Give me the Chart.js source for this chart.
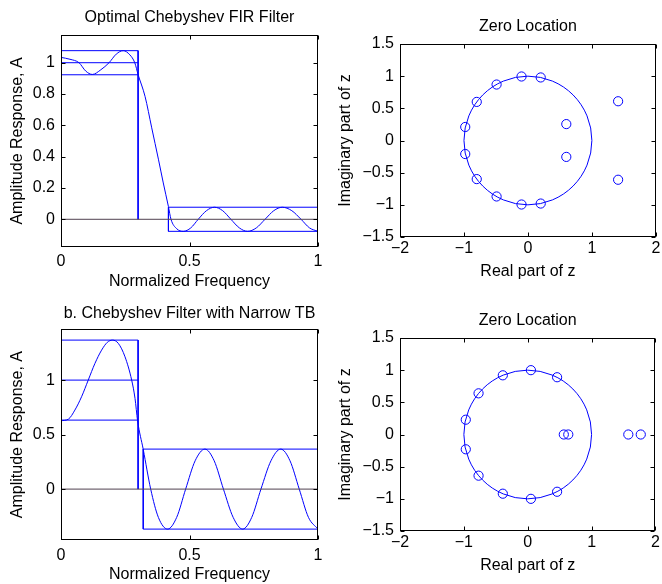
<!DOCTYPE html>
<html>
<head>
<meta charset="utf-8">
<script src="https://cdn.jsdelivr.net/npm/chart.js@4.4.1/dist/chart.umd.min.js"></script>
<style>
  body { margin: 0; background: #fff; width: 662px; height: 584px; position: relative; overflow: hidden; }
  .panel { position: absolute; width: 331px; height: 292px; }
</style>
</head>
<body>
<div class="panel" style="left:0;top:0"><canvas id="respA" width="331" height="292"></canvas></div>
<div class="panel" style="left:331px;top:0"><canvas id="zerosA" width="331" height="292"></canvas></div>
<div class="panel" style="left:0;top:292px"><canvas id="respB" width="331" height="292"></canvas></div>
<div class="panel" style="left:331px;top:292px"><canvas id="zerosB" width="331" height="292"></canvas></div>
<script>
// optimal equiripple design: amplitude response
const freqA = [0, 0.035, 0.07, 0.096, 0.122, 0.155, 0.187, 0.215, 0.242, 0.268, 0.287, 0.3, 0.327, 0.353, 0.379, 0.398, 0.418, 0.428, 0.45, 0.476, 0.505, 0.534, 0.566, 0.597, 0.629, 0.661, 0.694, 0.726, 0.76, 0.794, 0.828, 0.861, 0.898, 0.934, 0.967, 1];
const ampA = [1.034, 1.022, 1.0, 0.947, 0.925, 0.955, 1.0, 1.055, 1.077, 1.05, 1.0, 0.924, 0.785, 0.584, 0.384, 0.232, 0.081, 0, -0.06, -0.077, -0.055, 0, 0.055, 0.077, 0.055, 0, -0.055, -0.077, -0.055, 0, 0.055, 0.077, 0.055, 0, -0.055, -0.077];
const passEdgeA = 0.3, stopEdgeA = 0.418, deltaA = 0.077;

// zeros of the first design
const zerosReA = [-0.10, 0.20, -0.49, -0.80, -0.98, 0.60, 1.41, -0.98, -0.80, -0.49, -0.10, 0.20, 0.60, 1.41];
const zerosImA = [0.995, 0.98, 0.87, 0.60, 0.21, 0.255, 0.61, -0.21, -0.60, -0.87, -0.995, -0.98, -0.255, -0.61];

// narrow transition band design
const freqB = [0, 0.029, 0.054, 0.08, 0.106, 0.132, 0.158, 0.18, 0.2, 0.223, 0.249, 0.275, 0.288, 0.298, 0.32, 0.349, 0.379, 0.415, 0.45, 0.485, 0.522, 0.56, 0.596, 0.632, 0.67, 0.707, 0.742, 0.778, 0.817, 0.855, 0.891, 0.927, 0.963, 1];
const ampB = [0.627, 0.642, 0.725, 0.847, 1.0, 1.153, 1.275, 1.346, 1.367, 1.337, 1.214, 1.0, 0.832, 0.627, 0.364, 0, -0.26, -0.367, -0.26, 0, 0.26, 0.367, 0.26, 0, -0.26, -0.367, -0.26, 0, 0.26, 0.367, 0.26, 0, -0.26, -0.367];
const passEdgeB = 0.3, stopEdgeB = 0.32, deltaB = 0.367;

const zerosReB = [0.05, 0.46, -0.39, -0.77, -0.97, 0.565, 0.635, 1.575, 1.77, -0.97, -0.77, -0.39, 0.05, 0.46];
const zerosImB = [1.0, 0.89, 0.92, 0.64, 0.23, 0, 0, 0, 0, -0.23, -0.64, -0.92, -1.0, -0.89];

const unitRadius = 1;

const BLUE = '#0000ff';
const font = { family: '"Liberation Sans", Arial, Helvetica, sans-serif', size: 16, weight: 'normal' };

function fmt(v) {
  return String(Math.round(v * 100) / 100).replace('-', '\u2212');
}

// box around the axes with inward ticks on all four sides, plus optional unit circle
const framePlugin = {
  id: 'frame',
  beforeDatasetsDraw(chart, args, opts) {
    if (!opts.circle) return;
    const { ctx } = chart;
    const xs = chart.scales.x, ys = chart.scales.y;
    const cx = xs.getPixelForValue(0), cy = ys.getPixelForValue(0);
    const rx = xs.getPixelForValue(unitRadius) - cx;
    const ry = cy - ys.getPixelForValue(unitRadius);
    ctx.save();
    ctx.strokeStyle = BLUE;
    ctx.lineWidth = 1;
    ctx.beginPath();
    ctx.ellipse(cx, cy, rx, ry, 0, 0, Math.PI * 2);
    ctx.stroke();
    ctx.restore();
  },
  afterDraw(chart) {
    const { ctx, chartArea: a } = chart;
    const l = Math.round(a.left) + 0.5, r = Math.round(a.right) - 0.5;
    const t = Math.round(a.top) + 0.5, b = Math.round(a.bottom) - 0.5;
    const len = 4;
    ctx.save();
    ctx.strokeStyle = '#000';
    ctx.lineWidth = 1;
    ctx.strokeRect(l, t, r - l, b - t);
    ctx.beginPath();
    chart.scales.x.ticks.forEach(tk => {
      const px = Math.round(chart.scales.x.getPixelForValue(tk.value)) + 0.5;
      ctx.moveTo(px, b); ctx.lineTo(px, b - len);
      ctx.moveTo(px, t); ctx.lineTo(px, t + len);
    });
    chart.scales.y.ticks.forEach(tk => {
      const py = Math.round(chart.scales.y.getPixelForValue(tk.value)) + 0.5;
      ctx.moveTo(l, py); ctx.lineTo(l + len, py);
      ctx.moveTo(r, py); ctx.lineTo(r - len, py);
    });
    ctx.stroke();
    ctx.restore();
  }
};

function scale(o) {
  return {
    type: 'linear',
    min: o.min,
    max: o.max,
    grid: { display: false, drawTicks: false },
    border: { display: false },
    ticks: {
      stepSize: o.step, includeBounds: false, autoSkip: false, maxRotation: 0,
      padding: o.tickPad, color: '#000', font, callback: fmt
    },
    title: { display: true, text: o.title, color: '#000', font, padding: o.titlePad },
    afterFit(s) {
      if (s.isHorizontal()) s.height = o.size; else s.width = o.size;
    }
  };
}

function seg(points, color) {
  return {
    data: points, borderColor: color || BLUE, borderWidth: 1,
    pointRadius: 0, tension: 0, fill: false
  };
}

function responseChart(id, freq, amp, fp, fs, d, lay) {
  const datasets = [
    seg([{ x: 0, y: 0 }, { x: 1, y: 0 }], 'rgb(80,64,80)'),
    seg([{ x: 0, y: 1 + d }, { x: fp, y: 1 + d }, { x: fp, y: 0 }]),
    seg([{ x: 0, y: 1 }, { x: fp, y: 1 }]),
    seg([{ x: 0, y: 1 - d }, { x: fp, y: 1 - d }]),
    seg([{ x: 1, y: d }, { x: fs, y: d }, { x: fs, y: -d }, { x: 1, y: -d }]),
    {
      data: freq.map((f, i) => ({ x: f, y: amp[i] })),
      borderColor: BLUE, borderWidth: 1, pointRadius: 0,
      cubicInterpolationMode: 'monotone', fill: false
    }
  ];
  return new Chart(document.getElementById(id), {
    type: 'line',
    data: { datasets },
    options: {
      responsive: false, animation: false, devicePixelRatio: 1,
      layout: { padding: { left: 0, right: 13, top: 0, bottom: 0 } },
      plugins: {
        legend: { display: false }, tooltip: { enabled: false },
        title: { display: true, fullSize: false, text: lay.title, color: '#000', font, padding: lay.headPad },
        frame: {}
      },
      scales: {
        x: scale({ min: 0, max: 1, step: 0.5, title: 'Normalized Frequency', tickPad: lay.xTickPad, titlePad: { top: 0, bottom: lay.xTitlePad }, size: lay.xSize }),
        y: scale({ min: -d - 0.1, max: 1 + d + 0.1, step: lay.yStep, title: 'Amplitude Response, A', tickPad: 6, titlePad: { top: 8.4, bottom: 0 }, size: 61 })
      }
    },
    plugins: [framePlugin]
  });
}

function zeroChart(id, re, im, lay) {
  return new Chart(document.getElementById(id), {
    type: 'line',
    data: {
      datasets: [{
        data: re.map((v, i) => ({ x: v, y: im[i] })),
        showLine: false, pointStyle: 'circle', pointRadius: 4.6,
        pointBorderColor: BLUE, pointBackgroundColor: 'rgba(0,0,0,0)', pointBorderWidth: 1
      }]
    },
    options: {
      responsive: false, animation: false, devicePixelRatio: 1,
      layout: { padding: { left: 0, right: 6, top: 0, bottom: 0 } },
      plugins: {
        legend: { display: false }, tooltip: { enabled: false },
        title: { display: true, fullSize: false, text: 'Zero Location', color: '#000', font, padding: lay.headPad },
        frame: { circle: true }
      },
      scales: {
        x: scale({ min: -2, max: 2, step: 1, title: 'Real part of z', tickPad: lay.xTickPad, titlePad: { top: 0, bottom: lay.xTitlePad }, size: lay.xSize }),
        y: scale({ min: -1.5, max: 1.5, step: 0.5, title: 'Imaginary part of z', tickPad: 6, titlePad: { top: 5.4, bottom: 0 }, size: 69 })
      }
    },
    plugins: [framePlugin]
  });
}

responseChart('respA', freqA, ampA, passEdgeA, stopEdgeA, deltaA, {
  title: 'Optimal Chebyshev FIR Filter', headPad: { top: 8, bottom: 7.8 },
  xTickPad: 5, xTitlePad: 0.7, xSize: 45, yStep: 0.2
});
zeroChart('zerosA', zerosReA, zerosImA, {
  headPad: { top: 17, bottom: 7.8 }, xTickPad: 1.7, xTitlePad: 10.7, xSize: 55
});
responseChart('respB', freqB, ampB, passEdgeB, stopEdgeB, deltaB, {
  title: 'b. Chebyshev Filter with Narrow TB', headPad: { top: 12, bottom: 6 },
  xTickPad: 5.7, xTitlePad: 0, xSize: 44, yStep: 0.5
});
zeroChart('zerosB', zerosReB, zerosImB, {
  headPad: { top: 18.7, bottom: 8.1 }, xTickPad: 2.1, xTitlePad: 8.4, xSize: 53
});
</script>
</body>
</html>
